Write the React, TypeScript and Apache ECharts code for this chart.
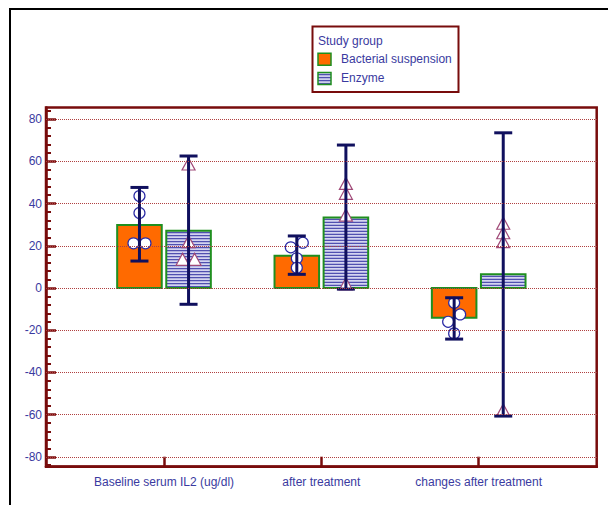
import { useEffect, useRef } from "react";
import * as echarts from "echarts";

const categories = ["Baseline serum IL2 (ug/dl)", "after treatment", "changes after treatment"];
const seriesNames = ["Bacterial suspension", "Enzyme"];

const bacterialMean = [29.9, 15.3, -14.1];
const bacterialLow = [12.8, 6.5, -24.2];
const bacterialHigh = [47.7, 24.7, -4.6];

const enzymeMean = [27.2, 33.5, 6.5];
const enzymeLow = [-7.7, -0.5, -60.7];
const enzymeHigh = [62.6, 67.8, 73.6];

const bacterialPoints = [
  [43.6, 35.6, 21.2, 21.2],
  [21.5, 19.3, 14.1, 9.6],
  [-7.0, -12.5, -16.0, -21.5],
];
const bacterialJitter = [
  [0, 0, -1, 1],
  [1, -1, 0, 0],
  [0, 1, -1, 0],
];
const enzymePoints = [
  [58.8, 22.0, 13.6, 13.6],
  [49.6, 44.9, 34.6, 2.0],
  [30.7, 26.2, 22.0, -57.8],
];
const enzymeJitter = [
  [0, 0, -1, 1],
  [0, 0, 0, 0],
  [0, 0, 0, 0],
];

const yMajorTicks = [-80, -60, -40, -20, 0, 20, 40, 60, 80];
const yMinorTicks = [-84, -76, -72, -68, -64, -56, -52, -48, -44, -36, -32, -28, -24, -16, -12, -8, -4, 4, 8, 12, 16, 24, 28, 32, 36, 44, 48, 52, 56, 64, 68, 72, 76, 84];
const xTicks = [1, 2, 3];

const FONT = "'Liberation Sans', Arial, sans-serif";
const FS = 12;
const TEXT = "#3a3aa0";
const FRAME = "#780c0c";
const ORANGE = "#ff6a00";
const GREEN = "#1f8f1f";
const STRIPE_BG = "#d4d4f0";
const STRIPE = "#5050b0";
const NAVY = "#10105e";
const CIRCLE = "#2a2aa5";
const TRI = "#a04a78";

const BAR_OUT = 0.304;
const BAR_IN = 0.008;
const BAR_CENTER = (BAR_OUT + BAR_IN) / 2;

function barRender(side: number, striped: boolean) {
  return (_params: any, api: any) => {
    const x = api.value(0);
    const v = api.value(1);
    const xa = side < 0 ? x - BAR_OUT : x + BAR_IN;
    const xb = side < 0 ? x - BAR_IN : x + BAR_OUT;
    const p0 = api.coord([xa, v]);
    const p1 = api.coord([xb, 0]);
    const left = Math.min(p0[0], p1[0]) + 1;
    const right = Math.max(p0[0], p1[0]) - 1;
    const top = Math.min(p0[1], p1[1]);
    const bottom = Math.max(p0[1], p1[1]);
    const shape = { x: left, y: top, width: right - left, height: bottom - top };
    const children: any[] = [
      { type: "rect", shape, style: { fill: striped ? STRIPE_BG : ORANGE } },
    ];
    if (striped) {
      for (let yy = top + 2; yy < bottom - 0.5; yy += 3) {
        children.push({
          type: "line",
          shape: { x1: left, y1: yy, x2: right, y2: yy },
          style: { stroke: STRIPE, lineWidth: 1.3 },
        });
      }
    }
    children.push({ type: "rect", shape, style: { fill: "none", stroke: GREEN, lineWidth: 2 } });
    return { type: "group", children };
  };
}

function errRender(side: number) {
  return (_params: any, api: any) => {
    const x = api.value(0) + side * BAR_CENTER;
    const lo = api.coord([x, api.value(1)]);
    const hi = api.coord([x, api.value(2)]);
    const cx = lo[0];
    const st = { stroke: NAVY, lineWidth: 3 };
    return {
      type: "group",
      children: [
        { type: "line", shape: { x1: cx, y1: lo[1], x2: cx, y2: hi[1] }, style: st },
        { type: "line", shape: { x1: cx - 9, y1: lo[1], x2: cx + 9, y2: lo[1] }, style: st },
        { type: "line", shape: { x1: cx - 9, y1: hi[1], x2: cx + 9, y2: hi[1] }, style: st },
      ],
    };
  };
}

function pointData(points: number[][], jitter: number[][], side: number) {
  const out: any[] = [];
  points.forEach((arr, i) => {
    arr.forEach((v, k) => {
      out.push({ value: [xTicks[i] + side * BAR_CENTER, v], symbolOffset: [jitter[i][k] * 6, 0] });
    });
  });
  return out;
}

function legendStripes(x: number, y: number, w: number, h: number) {
  const els: any[] = [];
  for (let yy = y + 2; yy < y + h - 0.5; yy += 3) {
    els.push({
      type: "line",
      shape: { x1: x, y1: yy, x2: x + w, y2: yy },
      style: { stroke: STRIPE, lineWidth: 1.3 },
      z: 101,
    });
  }
  return els;
}

export default function App() {
  const ref = useRef<HTMLDivElement>(null);
  useEffect(() => {
    const chart = echarts.init(ref.current!, null, { renderer: "svg" });
    const option: any = {
      animation: false,
      backgroundColor: "#ffffff",
      grid: {
        left: 46,
        right: 11.3,
        top: 107.5,
        bottom: 38.3,
        show: true,
        borderColor: FRAME,
        borderWidth: 2.5,
        containLabel: false,
        outerBoundsMode: "none",
      },
      xAxis: {
        type: "value",
        min: 0.25,
        max: 3.75,
        axisLine: { show: true, onZero: false, lineStyle: { color: FRAME, width: 2.5 } },
        axisTick: { show: true, inside: true, length: 10, customValues: xTicks, lineStyle: { color: FRAME, width: 2.5 } },
        axisLabel: {
          show: true,
          customValues: xTicks,
          formatter: (v: number) => categories[Math.round(v) - 1] ?? "",
          color: TEXT,
          fontSize: FS,
          fontFamily: FONT,
          margin: 9,
        },
        splitLine: { show: false },
      },
      yAxis: [
        {
          type: "value",
          min: -84.7,
          max: 85.6,
          position: "left",
          axisLine: { show: true, onZero: false, lineStyle: { color: FRAME, width: 2.5 } },
          axisTick: { show: true, inside: true, length: 10, customValues: yMajorTicks, lineStyle: { color: FRAME, width: 2.5 } },
          axisLabel: { show: true, customValues: yMajorTicks, color: TEXT, fontSize: FS, fontFamily: FONT, margin: 4 },
          splitLine: { show: false },
        },
        {
          type: "value",
          min: -84.7,
          max: 85.6,
          position: "left",
          offset: 0,
          axisLine: { show: false },
          axisTick: { show: true, inside: true, length: 5, customValues: yMinorTicks, lineStyle: { color: FRAME, width: 2 } },
          axisLabel: { show: false },
          splitLine: { show: false },
        },
      ],
      series: [
        {
          type: "scatter",
          name: "grid",
          data: [],
          z: 1,
          silent: true,
          markLine: {
            silent: true,
            symbol: ["none", "none"],
            label: { show: false },
            lineStyle: { type: "dotted", color: "#b04040", width: 1 },
            data: yMajorTicks.map((v) => ({ yAxis: v })),
          },
        },
        {
          type: "custom",
          name: seriesNames[0],
          renderItem: barRender(-1, false),
          data: bacterialMean.map((v, i) => [xTicks[i], v]),
          z: 2,
        },
        {
          type: "custom",
          name: seriesNames[1],
          renderItem: barRender(1, true),
          data: enzymeMean.map((v, i) => [xTicks[i], v]),
          z: 2,
        },
        {
          type: "scatter",
          name: seriesNames[0] + " points",
          symbol: "circle",
          symbolSize: 11,
          itemStyle: { color: "#ffffff", borderColor: CIRCLE, borderWidth: 1.2, opacity: 1 },
          data: pointData(bacterialPoints, bacterialJitter, -1),
          z: 3,
        },
        {
          type: "scatter",
          name: seriesNames[1] + " points",
          symbol: "triangle",
          symbolSize: [13, 12],
          itemStyle: { color: "#ffffff", borderColor: TRI, borderWidth: 1.2, opacity: 1 },
          data: pointData(enzymePoints, enzymeJitter, 1),
          z: 3,
        },
        {
          type: "custom",
          name: seriesNames[0] + " error",
          renderItem: errRender(-1),
          data: bacterialLow.map((v, i) => [xTicks[i], v, bacterialHigh[i]]),
          z: 4,
        },
        {
          type: "custom",
          name: seriesNames[1] + " error",
          renderItem: errRender(1),
          data: enzymeLow.map((v, i) => [xTicks[i], v, enzymeHigh[i]]),
          z: 4,
        },
      ],
      graphic: [
        {
          type: "rect",
          shape: { x: 10, y: 9, width: 700, height: 600 },
          style: { fill: "none", stroke: "#000000", lineWidth: 2 },
          z: 100,
        },
        {
          type: "rect",
          shape: { x: 312.5, y: 26.5, width: 146, height: 65.5 },
          style: { fill: "#ffffff", stroke: FRAME, lineWidth: 2 },
          z: 100,
        },
        {
          type: "text",
          x: 318,
          y: 40.7,
          style: { text: "Study group", fill: TEXT, fontSize: FS, fontFamily: FONT, verticalAlign: "middle" },
          z: 101,
        },
        {
          type: "rect",
          shape: { x: 318, y: 53.2, width: 13, height: 12 },
          style: { fill: ORANGE, stroke: GREEN, lineWidth: 1.5 },
          z: 101,
        },
        {
          type: "text",
          x: 341,
          y: 59.3,
          style: { text: seriesNames[0], fill: TEXT, fontSize: FS, fontFamily: FONT, verticalAlign: "middle" },
          z: 101,
        },
        {
          type: "rect",
          shape: { x: 318, y: 72.6, width: 13, height: 12 },
          style: { fill: STRIPE_BG },
          z: 101,
        },
        ...legendStripes(318, 72.6, 13, 12),
        {
          type: "rect",
          shape: { x: 318, y: 72.6, width: 13, height: 12 },
          style: { fill: "none", stroke: GREEN, lineWidth: 1.5 },
          z: 102,
        },
        {
          type: "text",
          x: 341,
          y: 78.3,
          style: { text: seriesNames[1], fill: TEXT, fontSize: FS, fontFamily: FONT, verticalAlign: "middle" },
          z: 101,
        },
      ],
    };
    chart.setOption(option);
    return () => chart.dispose();
  }, []);
  return (
    <div
      ref={ref}
      style={{ position: "fixed", left: 0, top: 0, width: 608, height: 505, background: "#ffffff" }}
    />
  );
}
